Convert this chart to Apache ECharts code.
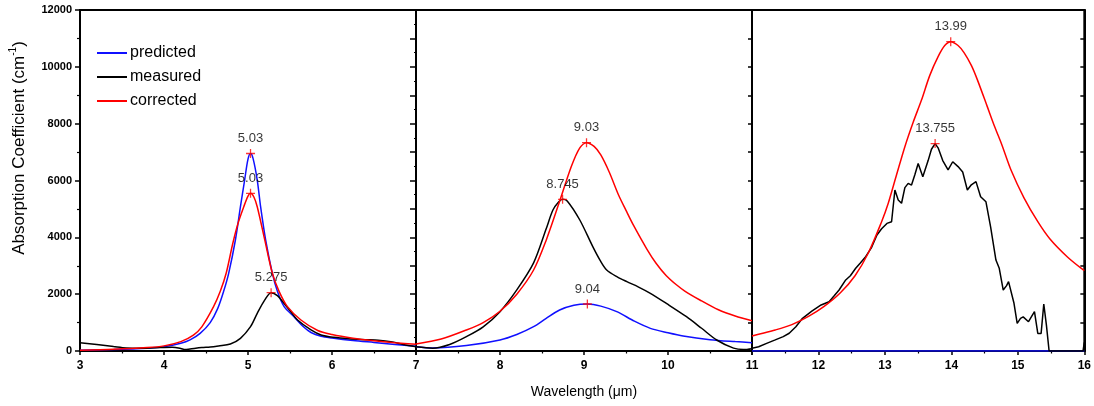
<!DOCTYPE html>
<html>
<head>
<meta charset="utf-8">
<script src="https://cdn.jsdelivr.net/npm/echarts@6/dist/echarts.min.js"></script>
<style>
html,body{margin:0;padding:0;background:#fff;}
#chart{width:1094px;height:406px;}
</style>
</head>
<body>
<div id="chart"></div>
<script>
// ---------- data (wavelength µm, absorption cm^-1) ----------
const xRanges = [[3, 7], [7, 11], [11, 16]];
const yTicks = [0, 2000, 4000, 6000, 8000, 10000, 12000];
const seriesNames = ['predicted', 'measured', 'corrected'];

const predicted1 = [[3.0,30],[3.4,55],[3.8,100],[4.0,150],[4.2,270],[4.31,390],[4.43,620],[4.55,1000],[4.64,1500],[4.71,2100],[4.77,2734],[4.85,3906],[4.91,5078],[4.96,6017],[5.0,6750],[5.03,6950],[5.06,6780],[5.11,6017],[5.15,5078],[5.21,3906],[5.29,2734],[5.35,2100],[5.43,1560],[5.55,1200],[5.65,880],[5.75,650],[5.87,520],[6.0,460],[6.25,370],[6.5,300],[6.75,230],[7.0,170]];
const measured1 = [[3.0,292],[3.2,230],[3.4,160],[3.55,110],[3.7,95],[3.9,115],[4.1,130],[4.2,90],[4.25,50],[4.31,70],[4.45,120],[4.55,140],[4.65,180],[4.79,246],[4.91,446],[5.03,855],[5.11,1326],[5.2,1800],[5.275,2052],[5.35,1950],[5.43,1675],[5.51,1380],[5.59,1090],[5.75,740],[5.87,563],[6.02,480],[6.2,430],[6.4,400],[6.55,380],[6.7,330],[6.85,230],[7.0,150]];
const corrected1 = [[3.0,30],[3.4,60],[3.8,120],[4.0,180],[4.2,330],[4.35,560],[4.45,850],[4.59,1560],[4.67,2100],[4.74,2734],[4.82,3800],[4.88,4480],[4.95,5078],[5.0,5450],[5.03,5549],[5.07,5420],[5.11,5078],[5.2,3906],[5.29,2734],[5.37,2100],[5.47,1560],[5.63,1090],[5.83,720],[6.0,580],[6.25,450],[6.5,360],[6.75,290],[7.0,235]];

const predicted2 = [[7.0,150],[7.2,105],[7.6,190],[8.0,387],[8.2,580],[8.4,855],[8.55,1150],[8.71,1443],[8.88,1610],[9.04,1654],[9.2,1580],[9.39,1385],[9.6,1050],[9.79,797],[10.0,640],[10.18,527],[10.5,400],[10.8,330],[11.0,292]];
const measured2 = [[7.0,150],[7.2,100],[7.4,230],[7.6,505],[7.8,850],[8.0,1385],[8.2,2150],[8.4,3100],[8.55,4300],[8.63,4960],[8.7,5250],[8.745,5337],[8.8,5280],[8.95,4610],[9.1,3700],[9.19,3200],[9.27,2850],[9.4,2600],[9.51,2440],[9.65,2250],[9.79,2030],[9.98,1675],[10.22,1207],[10.4,800],[10.58,387],[10.78,100],[10.9,50],[11.0,80]];
const corrected2 = [[7.0,250],[7.3,420],[7.6,740],[7.8,1000],[8.0,1400],[8.2,2000],[8.4,2850],[8.55,3900],[8.7,5180],[8.85,6500],[8.95,7150],[9.03,7330],[9.12,7200],[9.2,6900],[9.3,6300],[9.41,5500],[9.5,4950],[9.59,4420],[9.75,3580],[9.86,3080],[9.98,2650],[10.1,2330],[10.2,2110],[10.38,1795],[10.6,1450],[10.8,1230],[11.0,1067]];

const predicted3 = [[11.0,0],[16.0,0]];
const measured3 = [[11.0,100],[11.02,94],[11.1,150],[11.22,270],[11.35,390],[11.47,505],[11.56,625],[11.66,855],[11.76,1150],[11.9,1400],[12.04,1620],[12.16,1735],[12.24,1950],[12.31,2146],[12.41,2500],[12.48,2650],[12.56,2910],[12.63,3100],[12.71,3320],[12.8,3650],[12.88,4080],[12.95,4300],[13.03,4490],[13.1,4550],[13.15,5665],[13.2,5313],[13.25,5200],[13.3,5750],[13.35,5900],[13.4,5840],[13.45,6200],[13.5,6600],[13.57,6130],[13.65,6700],[13.7,7100],[13.755,7300],[13.8,7150],[13.87,6700],[13.95,6370],[14.02,6660],[14.1,6490],[14.17,6300],[14.24,5665],[14.3,5850],[14.37,5960],[14.44,5430],[14.52,5250],[14.59,4370],[14.67,3200],[14.72,2910],[14.78,2146],[14.83,2300],[14.86,2440],[14.89,2400],[14.94,1700],[14.99,975],[15.04,1150],[15.08,1200],[15.11,1267],[15.16,1030],[15.25,1385],[15.3,620],[15.35,620],[15.39,1654],[15.43,900],[15.47,0],[15.98,0],[16.0,300]];
const corrected3 = [[11.0,530],[11.1,590],[11.35,740],[11.6,930],[11.85,1220],[12.08,1560],[12.33,2050],[12.55,2650],[12.75,3450],[12.95,4550],[13.05,5200],[13.175,6200],[13.3,7190],[13.425,8050],[13.55,8830],[13.675,9700],[13.8,10360],[13.9,10750],[13.99,10885],[14.1,10750],[14.19,10500],[14.3,10050],[14.39,9550],[14.54,8600],[14.65,7900],[14.76,7250],[14.9,6350],[15.09,5400],[15.3,4550],[15.48,3950],[15.75,3300],[16.0,2826]];

// peak markers: [wavelength, value]
const peaks1 = [[5.03,6950],[5.03,5549],[5.275,2052]];
const peaks2 = [[9.03,7330],[8.745,5337],[9.04,1654]];
const peaks3 = [[13.99,10885],[13.755,7300]];

// ---------- styling ----------
const FONT = '"Liberation Sans", Arial, sans-serif';
const BLUE = '#1010ff', BLACK = '#000000', RED = '#ff0000';
const gridW = 336, gridH = 341, gridTop = 10;
const gridLefts = [80, 416, 752];

const panels = [
  {pred: predicted1, meas: measured1, corr: corrected1, peaks: peaks1},
  {pred: predicted2, meas: measured2, corr: corrected2, peaks: peaks2},
  {pred: predicted3, meas: measured3, corr: corrected3, peaks: peaks3}
];

const grids = gridLefts.map(l => ({left: l, top: gridTop, width: gridW, height: gridH,
  show: true, borderColor: '#000', borderWidth: 2, backgroundColor: 'transparent'}));

const xAxes = xRanges.map((r, i) => ({
  gridIndex: i, type: 'value', min: r[0], max: r[1], interval: 1,
  axisLine: {show: true, onZero: false, lineStyle: {color: '#000', width: 2}},
  axisTick: {show: true, length: 4, lineStyle: {color: '#000', width: 1.5}},
  minorTick: {show: true, splitNumber: 2, length: 2.5, lineStyle: {color: '#000', width: 1.2}},
  splitLine: {show: false},
  axisLabel: {color: '#000', fontFamily: FONT, fontSize: 12, fontWeight: 'bold', margin: 9,
    showMaxLabel: i === 2, showMinLabel: true},
  name: i === 1 ? 'Wavelength (\u03bcm)' : '',
  nameLocation: 'middle', nameGap: 34,
  nameTextStyle: {color: '#000', fontFamily: FONT, fontSize: 14}
}));

const yAxes = [
  {gridIndex: 0, type: 'value', min: 0, max: 12000, interval: 2000,
   axisLine: {show: true, lineStyle: {color: '#000', width: 2}},
   axisTick: {show: true, length: 5, lineStyle: {color: '#000', width: 1.5}},
   minorTick: {show: true, splitNumber: 2, length: 3, lineStyle: {color: '#000', width: 1.2}},
   splitLine: {show: false},
   axisLabel: {color: '#000', fontFamily: FONT, fontSize: 11, fontWeight: 'bold', margin: 8,
     formatter: v => yTicks.indexOf(v) >= 0 ? String(v) : ''}},
  {gridIndex: 1, type: 'value', min: 0, max: 12000, interval: 1000,
   axisLine: {show: true, lineStyle: {color: '#000', width: 2}},
   axisTick: {show: true, length: 6, lineStyle: {color: '#000', width: 1.5}},
   minorTick: {show: true, splitNumber: 2, length: 2, lineStyle: {color: '#000', width: 1}},
   splitLine: {show: false}, axisLabel: {show: false}},
  {gridIndex: 2, type: 'value', min: 0, max: 12000, interval: 1000,
   axisLine: {show: true, lineStyle: {color: '#000', width: 2}},
   axisTick: {show: true, length: 4, lineStyle: {color: '#000', width: 1.5}},
   splitLine: {show: false}, axisLabel: {show: false}},
  {gridIndex: 2, type: 'value', position: 'right', min: 0, max: 12000, interval: 1000,
   axisLine: {show: true, lineStyle: {color: '#000', width: 2}},
   axisTick: {show: true, inside: true, length: 4, lineStyle: {color: '#000', width: 1.5}},
   splitLine: {show: false}, axisLabel: {show: false}}
];

const series = [];
panels.forEach((p, i) => {
  const common = {type: 'line', xAxisIndex: i, yAxisIndex: i, showSymbol: false, symbol: 'none',
    clip: true, z: 3};
  series.push(Object.assign({}, common, {name: 'predicted', data: p.pred, smooth: 0.3,
    lineStyle: {color: BLUE, width: 1.5}, itemStyle: {color: BLUE}}));
  series.push(Object.assign({}, common, {name: 'measured', data: p.meas,
    smooth: i === 2 ? false : 0.3,
    lineStyle: {color: BLACK, width: 1.5}, itemStyle: {color: BLACK}}));
  series.push(Object.assign({}, common, {name: 'corrected', data: p.corr,
    smooth: 0.3,
    lineStyle: {color: RED, width: 1.5}, itemStyle: {color: RED}}));
  series.push({type: 'scatter', name: 'peak' + i, xAxisIndex: i, yAxisIndex: i, data: p.peaks, z: 5,
    symbol: 'path://M4.3,0H5.7V4.3H10V5.7H5.7V10H4.3V5.7H0V4.3H4.3Z', symbolSize: 9,
    itemStyle: {color: RED},
    label: {show: true, position: 'top', distance: 4, color: '#000', fontFamily: FONT, fontSize: 13,
      formatter: d => String(d.value[0])}});
});

const chart = echarts.init(document.getElementById('chart'), null, {renderer: 'canvas'});
chart.setOption({
  animation: false,
  backgroundColor: '#fff',
  grid: grids,
  xAxis: xAxes,
  yAxis: yAxes,
  legend: {
    data: seriesNames, orient: 'vertical', left: 92, top: 40,
    icon: 'rect', itemWidth: 30, itemHeight: 2, itemGap: 8,
    textStyle: {color: '#000', fontFamily: FONT, fontSize: 16, padding: [0,0,0,-2]},
    selectedMode: false
  },
  graphic: [{
    type: 'text', x: 18, y: 148, rotation: Math.PI / 2,
    style: {
      text: '{a|Absorption Coefficient (cm}{s|-1}{a|)}',
      align: 'center', verticalAlign: 'middle',
      rich: {
        a: {fontFamily: FONT, fontSize: 17, fill: '#000', lineHeight: 20, verticalAlign: 'bottom'},
        s: {fontFamily: FONT, fontSize: 10, fill: '#000', lineHeight: 20, verticalAlign: 'top', padding: [0,0,8,0]}
      }
    }
  }],
  series: series
});
</script>
</body>
</html>
